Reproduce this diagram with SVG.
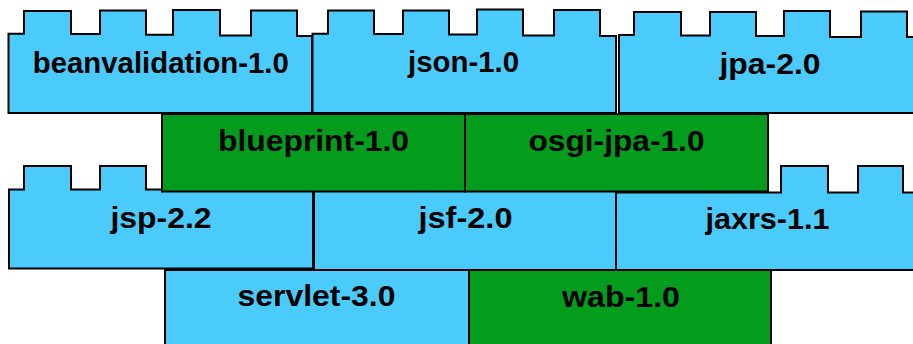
<svg xmlns="http://www.w3.org/2000/svg" width="913" height="344" viewBox="0 0 913 344">
  <style>
    .blue { fill: #4bcbfc; stroke: #000; stroke-width: 2; stroke-linejoin: miter; }
    .green { fill: #039c1d; stroke: #000; stroke-width: 2; }
    .label { font-family: "Liberation Sans", Arial, sans-serif; font-weight: bold; font-size: 29.5px; fill: #000; text-anchor: middle; }
  </style>
  <rect width="913" height="344" fill="#fff"/>

  <!-- bottom row -->
  <g id="servlet-3.0">
    <rect class="blue" x="165" y="270" width="304" height="80"/>
    <text class="label" x="316.5" y="306" textLength="158" lengthAdjust="spacingAndGlyphs">servlet-3.0</text>
  </g>
  <g id="wab-1.0">
    <rect class="green" x="469" y="270" width="302" height="80"/>
    <text class="label" x="621" y="306.5" textLength="118" lengthAdjust="spacingAndGlyphs">wab-1.0</text>
  </g>

  <!-- third row -->
  <g id="jsp-2.2">
    <path class="blue" d="M9,268.5 V189.5 H24 V166 H71 V189.5 H100 V166 H146 V189.5 H313 V268.5 Z"/>
    <text class="label" x="161" y="228" textLength="101" lengthAdjust="spacingAndGlyphs">jsp-2.2</text>
  </g>
  <g id="jsf-2.0">
    <rect class="blue" x="314" y="191" width="303" height="79"/>
    <text class="label" x="465.5" y="228" textLength="94" lengthAdjust="spacingAndGlyphs">jsf-2.0</text>
  </g>
  <g id="jaxrs-1.1">
    <path class="blue" d="M616,270 V192.5 H781 V166 H828 V192.5 H858 V166 H903 V192.5 H918 V270 Z"/>
    <text class="label" x="767.5" y="229" textLength="124" lengthAdjust="spacingAndGlyphs">jaxrs-1.1</text>
  </g>

  <!-- second row -->
  <g id="blueprint-1.0">
    <rect class="green" x="162" y="114" width="303" height="77.5"/>
    <text class="label" x="313.5" y="151.3" textLength="191" lengthAdjust="spacingAndGlyphs">blueprint-1.0</text>
  </g>
  <g id="osgi-jpa-1.0">
    <rect class="green" x="465" y="114" width="303" height="77.5"/>
    <text class="label" x="616.5" y="151" textLength="176" lengthAdjust="spacingAndGlyphs">osgi-jpa-1.0</text>
  </g>

  <!-- top row -->
  <g id="beanvalidation-1.0">
    <path class="blue" d="M8.5,113 V33.7 H24 V11 H71 V34 H100 V10.5 H146 V34.7 H173 V10 H220 V35.5 H251 V10.5 H297 V36 H312 V113 Z"/>
    <text class="label" x="160.8" y="72.7" textLength="256" lengthAdjust="spacingAndGlyphs">beanvalidation-1.0</text>
  </g>
  <g id="json-1.0">
    <path class="blue" d="M312.5,113 V33.7 H328 V10.5 H374 V34 H403 V10.5 H449 V34.5 H477 V9.5 H523 V35.5 H554 V10 H600 V36 H616 V113 Z"/>
    <text class="label" x="463.5" y="71.5" textLength="111" lengthAdjust="spacingAndGlyphs">json-1.0</text>
  </g>
  <g id="jpa-2.0">
    <path class="blue" d="M619,113 V35 H634 V12 H681 V35.5 H710 V12 H756 V36 H784 V11 H830 V37 H861 V11.5 H907 V37 H922 V113 Z"/>
    <text class="label" x="770" y="73.5" textLength="101" lengthAdjust="spacingAndGlyphs">jpa-2.0</text>
  </g>

  <g id="connectors"/>
</svg>
